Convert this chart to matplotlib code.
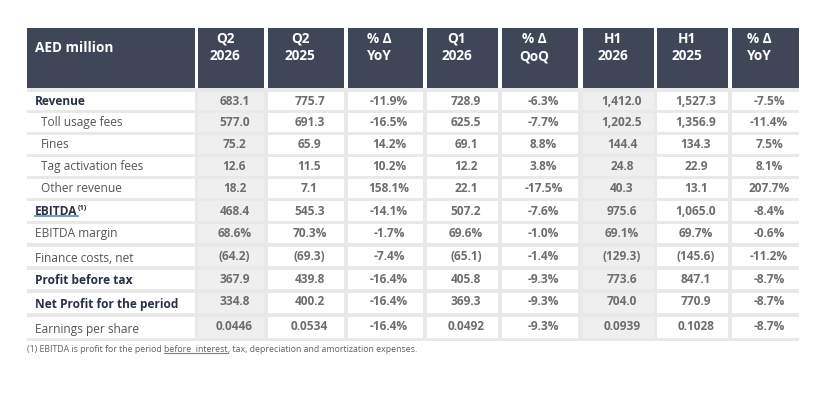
import matplotlib
matplotlib.use("Agg")
import matplotlib.pyplot as plt
from matplotlib.patches import Rectangle

# %% Table content
headers = ["AED million", "Q2\n2026", "Q2\n2025", "% Δ\nYoY", "Q1\n2026",
           "% Δ\nQoQ", "H1\n2026", "H1\n2025", "% Δ\nYoY"]

row_labels = ["Revenue", "Toll usage fees", "Fines", "Tag activation fees",
              "Other revenue", "EBITDA", "EBITDA margin", "Finance costs, net",
              "Profit before tax", "Net Profit for the period", "Earnings per share"]

q2_2026 = ["683.1", "577.0", "75.2", "12.6", "18.2", "468.4", "68.6%", "(64.2)",
           "367.9", "334.8", "0.0446"]
q2_2025 = ["775.7", "691.3", "65.9", "11.5", "7.1", "545.3", "70.3%", "(69.3)",
           "439.8", "400.2", "0.0534"]
q2_yoy = ["-11.9%", "-16.5%", "14.2%", "10.2%", "158.1%", "-14.1%", "-1.7%",
          "-7.4%", "-16.4%", "-16.4%", "-16.4%"]
q1_2026 = ["728.9", "625.5", "69.1", "12.2", "22.1", "507.2", "69.6%", "(65.1)",
           "405.8", "369.3", "0.0492"]
qoq = ["-6.3%", "-7.7%", "8.8%", "3.8%", "-17.5%", "-7.6%", "-1.0%", "-1.4%",
       "-9.3%", "-9.3%", "-9.3%"]
h1_2026 = ["1,412.0", "1,202.5", "144.4", "24.8", "40.3", "975.6", "69.1%",
           "(129.3)", "773.6", "704.0", "0.0939"]
h1_2025 = ["1,527.3", "1,356.9", "134.3", "22.9", "13.1", "1,065.0", "69.7%",
           "(145.6)", "847.1", "770.9", "0.1028"]
h1_yoy = ["-7.5%", "-11.4%", "7.5%", "8.1%", "207.7%", "-8.4%", "-0.6%",
          "-11.2%", "-8.7%", "-8.7%", "-8.7%"]

columns = [q2_2026, q2_2025, q2_yoy, q1_2026, qoq, h1_2026, h1_2025, h1_yoy]

bold_rows = {"Revenue", "EBITDA", "Profit before tax", "Net Profit for the period"}
indented_rows = {"Toll usage fees", "Fines", "Tag activation fees", "Other revenue"}
shaded_cols = {0, 5}   # Q2 2026 and H1 2026

footnote_pre = "(1) EBITDA is profit for the period "
footnote_link = "before  interest"
footnote_post = ", tax, depreciation and amortization expenses."

# %% Layout (pixels)
col_edges = [(27, 195), (198, 264), (268, 344), (348, 423), (427, 498),
             (502, 578), (583, 654), (657, 728), (732, 799)]
row_edges = [(92, 110), (113, 132), (135, 154), (157, 176), (179, 198),
             (201, 221), (224, 243), (247, 266), (270, 289), (293, 313), (317, 338)]
header_top, header_bot = 28, 88
body_bot = 341

HEADER_BG = "#3f4657"
GAP_BG = "#e9e9e9"
SHADE = "#efefef"
VAL_COLOR = "#6d6d6d"
LABEL_BOLD = "#283044"
LABEL_REG = "#555555"

BODY_SIZE = 8.6
HEAD_SIZE = 9.8
FN_SIZE = 6.3
FN_COLOR = "#606060"

plt.rcParams["font.family"] = ["Open Sans", "DejaVu Sans"]

fig = plt.figure(figsize=(8.38, 4.12), dpi=100)
ax = fig.add_axes([0, 0, 1, 1])
ax.set_xlim(0, 838)
ax.set_ylim(412, 0)
ax.axis("off")

# body background (gaps)
ax.add_patch(Rectangle((col_edges[0][0], header_bot), col_edges[-1][1] - col_edges[0][0],
                       body_bot - header_bot, color=GAP_BG, lw=0))

# header cells
for j, (x0, x1) in enumerate(col_edges):
    ax.add_patch(Rectangle((x0, header_top), x1 - x0, header_bot - header_top,
                           color=HEADER_BG, lw=0))
    if j == 0:
        ax.text(x0 + 8, 48, headers[j], color="white", fontsize=HEAD_SIZE,
                fontweight="bold", ha="left", va="center")
    else:
        cx = (x0 + x1) / 2 - 6
        ax.text(cx, 47.5, headers[j], color="white", fontsize=HEAD_SIZE,
                fontweight="bold", ha="center", va="center", linespacing=1.3)

# body cells
label_texts = {}
for i, label in enumerate(row_labels):
    y0, y1 = row_edges[i]
    yc = (y0 + y1) / 2
    for j, (x0, x1) in enumerate(col_edges):
        face = SHADE if (j - 1) in shaded_cols else "white"
        ax.add_patch(Rectangle((x0, y0), x1 - x0, y1 - y0, color=face, lw=0))
    bold = label in bold_rows
    lx = col_edges[0][0] + (14 if label in indented_rows else 8)
    ly = yc + (1.5 if i >= 7 else 0)
    label_texts[label] = ax.text(lx, ly, label, fontsize=BODY_SIZE,
                                 fontweight="bold" if bold else "normal",
                                 color=LABEL_BOLD if bold else LABEL_REG,
                                 ha="left", va="center")
    vy = yc - (1.5 if i >= 9 else 0)
    for j, col in enumerate(columns):
        x0, x1 = col_edges[j + 1]
        ax.text((x0 + x1) / 2 + 3.5, vy, col[i], fontsize=BODY_SIZE, fontweight="bold",
                color=VAL_COLOR, ha="center", va="center")

# footnote
fn = ax.text(col_edges[0][0], 350, footnote_pre, fontsize=FN_SIZE, color=FN_COLOR,
             ha="left", va="center")

fig.canvas.draw()
renderer = fig.canvas.get_renderer()
inv = ax.transData.inverted()


def extent(t):
    bb = t.get_window_extent(renderer)
    (ax0, ay0), (ax1, ay1) = inv.transform([[bb.x0, bb.y0], [bb.x1, bb.y1]])
    return ax0, ax1, min(ay0, ay1), max(ay0, ay1)


# EBITDA superscript and spelling underline
eb = label_texts["EBITDA"]
ex0, ex1, ey0, ey1 = extent(eb)
ax.text(ex1 + 0.5, ey0 + 3.5, "(1)", fontsize=5.3, fontweight="bold",
        color=LABEL_BOLD, ha="left", va="center")
ax.plot([ex0, ex1], [ey1 - 1.5, ey1 - 1.5], color="#5b86c6", lw=1.2)

# footnote link part with underline
f0, f1, fy0, fy1 = extent(fn)
link = ax.text(f1, 350, footnote_link, fontsize=FN_SIZE, color=FN_COLOR,
               ha="left", va="center")
fig.canvas.draw()
l0, l1, ly0, ly1 = extent(link)
ax.plot([l0, l1], [ly1 - 1.5, ly1 - 1.5], color="#5b86c6", lw=0.8)
ax.text(l1, 350, footnote_post, fontsize=FN_SIZE, color=FN_COLOR, ha="left", va="center")

fig.savefig("out.png", dpi=100)
